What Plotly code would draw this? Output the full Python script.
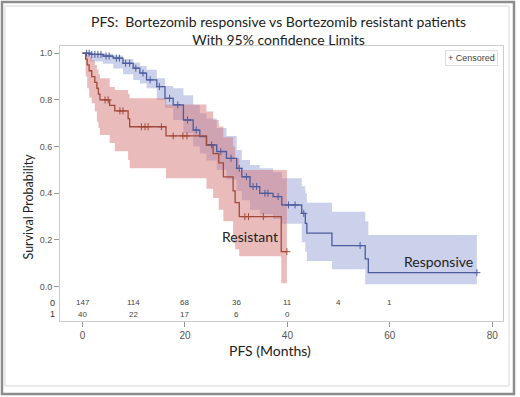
import numpy as np
import plotly.graph_objects as go

# ---------------- data ----------------
# Responsive (group 0)
resp_t = [0, 1.5, 4.0, 6.0, 7.9, 9.9, 11.2, 12.5, 14.5, 16.1, 17.7, 19.7, 21.6, 22.9, 24.2, 26.2, 28.1,
          30.1, 31.1, 32.7, 34.6, 37.2, 38.9, 42.8, 43.5, 43.8, 48.7, 55.2, 55.8, 77.0]
resp_s = [1.0, 0.995, 0.988, 0.979, 0.957, 0.936, 0.915, 0.886, 0.857, 0.807, 0.779, 0.714, 0.671, 0.643,
          0.607, 0.579, 0.55, 0.507, 0.471, 0.429, 0.40, 0.386, 0.35, 0.314, 0.271, 0.229, 0.176, 0.119,
          0.06, 0.06]
resp_lo = [1.0, 0.965, 0.955, 0.935, 0.91, 0.885, 0.87, 0.85, 0.80, 0.765, 0.714, 0.657, 0.60, 0.57, 0.54,
           0.50, 0.46, 0.41, 0.37, 0.33, 0.31, 0.29, 0.27, 0.19, 0.15, 0.11, 0.075, 0.01, 0.01, 0.01]
resp_hi = [1.0, 1.0, 0.998, 0.99, 0.975, 0.96, 0.945, 0.929, 0.893, 0.86, 0.85, 0.82, 0.779, 0.743, 0.72,
           0.68, 0.645, 0.586, 0.543, 0.521, 0.507, 0.49, 0.464, 0.43, 0.40, 0.36, 0.321, 0.28, 0.221, 0.221]
resp_cens = [0.8, 1.3, 1.8, 2.4, 3.0, 3.6, 4.6, 5.2, 6.6, 7.2, 8.4, 9.2, 10.4, 11.8, 13.2, 15.0, 17.0,
             18.6, 20.5, 22.2, 25.2, 27.0, 29.0, 30.6, 32.0, 33.3, 34.0, 35.6, 36.2, 38.2, 40.2, 41.5,
             43.2, 54.2, 77.0]

# Resistant (group 1)
res_t = [0, 0.6, 0.9, 1.3, 1.8, 2.4, 2.8, 3.1, 3.4, 5.3, 6.3, 8.9, 9.2, 16.3, 24.2, 25.5, 26.6, 27.5,
         29.4, 29.8, 30.6, 38.8, 39.9]
res_s = [1.0, 0.975, 0.95, 0.925, 0.90, 0.875, 0.85, 0.825, 0.80, 0.777, 0.753, 0.72, 0.685, 0.646,
         0.607, 0.57, 0.53, 0.47, 0.41, 0.36, 0.30, 0.15, 0.15]
res_lo = [1.0, 0.90, 0.85, 0.81, 0.786, 0.75, 0.707, 0.68, 0.65, 0.615, 0.58, 0.543, 0.507, 0.465,
          0.42, 0.38, 0.33, 0.28, 0.186, 0.16, 0.13, 0.015, 0.015]
res_hi = [1.0, 1.0, 0.995, 0.985, 0.97, 0.95, 0.93, 0.91, 0.893, 0.855, 0.843, 0.825, 0.807, 0.78,
          0.75, 0.714, 0.686, 0.64, 0.60, 0.55, 0.50, 0.50, 0.50]
res_cens = [4.4, 5.0, 7.3, 7.9, 11.5, 12.2, 12.8, 15.4, 17.7, 19.6, 20.4, 31.7, 32.4, 35.3, 39.9]

# At-risk table
risk_times = [0, 10, 20, 30, 40, 50, 60]
risk_resp = [147, 114, 68, 36, 11, 4, 1]
risk_res = [40, 22, 17, 6, 0]

x_ticks = [0, 20, 40, 60, 80]
y_ticks = [0.0, 0.2, 0.4, 0.6, 0.8, 1.0]
y_tick_labels = ["0.0", "0.2", "0.4", "0.6", "0.8", "1.0"]

# ---------------- styling ----------------
W, H = 520, 397
ML, MR, MT, MB = 60, 17, 46, 76
PW, PH = W - ML - MR, H - MT - MB

def px_x(p):
    return (p - ML) / PW

def px_y(p):
    return 1 - (p - MT) / PH

BLUE_LINE = "#4c5c9e"
BLUE_FILL = "rgba(140,152,210,0.45)"
RED_LINE = "#a24a3a"
RED_FILL = "rgba(212,112,112,0.48)"
FONT = "Lato, 'Open Sans', sans-serif"
TFONT = "'Liberation Sans', Arial, sans-serif"


def step_at(ts, ss, c):
    i = np.searchsorted(np.array(ts), c, side="right") - 1
    return ss[max(i, 0)]


fig = go.Figure()

# CI bands
for t, lo, hi, col in [(resp_t, resp_lo, resp_hi, BLUE_FILL), (res_t, res_lo, res_hi, RED_FILL)]:
    fig.add_trace(go.Scatter(x=t, y=hi, mode="lines", line=dict(width=0, shape="hv"),
                             showlegend=False, hoverinfo="skip"))
    fig.add_trace(go.Scatter(x=t, y=lo, mode="lines", line=dict(width=0, shape="hv"),
                             fill="tonexty", fillcolor=col, showlegend=False, hoverinfo="skip"))

# Survival curves
for t, s, col in [(resp_t, resp_s, BLUE_LINE), (res_t, res_s, RED_LINE)]:
    fig.add_trace(go.Scatter(x=t, y=s, mode="lines", line=dict(width=1.3, shape="hv", color=col),
                             showlegend=False, hoverinfo="skip"))

# Censor marks
for t, s, cens, col in [(resp_t, resp_s, resp_cens, BLUE_LINE), (res_t, res_s, res_cens, RED_LINE)]:
    fig.add_trace(go.Scatter(x=cens, y=[step_at(t, s, c) for c in cens], mode="markers",
                             marker=dict(symbol="cross-thin", size=5, line=dict(width=1, color=col)),
                             showlegend=False, hoverinfo="skip"))

annotations = []
# at-risk numbers
for tt, n in zip(risk_times, risk_resp):
    annotations.append(dict(x=tt, y=-0.0686, xref="x", yref="y", text=str(n), showarrow=False,
                            font=dict(size=8, color="#444", family=TFONT)))
for tt, n in zip(risk_times, risk_res):
    annotations.append(dict(x=tt, y=-0.118, xref="x", yref="y", text=str(n), showarrow=False,
                            font=dict(size=8, color="#444", family=TFONT)))
for lab, yy in [("0", -0.0686), ("1", -0.118)]:
    annotations.append(dict(x=px_x(57), y=yy, xref="paper", yref="y", text=lab, showarrow=False,
                            xanchor="right", font=dict(size=9, color="#333", family=TFONT)))

# group labels
annotations.append(dict(x=32.7, y=0.217, xref="x", yref="y", text="Resistant", showarrow=False,
                        font=dict(size=14, color="#222", family=FONT)))
annotations.append(dict(x=69.6, y=0.11, xref="x", yref="y", text="Responsive", showarrow=False,
                        font=dict(size=14, color="#222", family=FONT)))

# title
annotations.append(dict(x=px_x(278), y=px_y(30), xref="paper", yref="paper", yanchor="middle",
                        text="PFS:&nbsp; Bortezomib responsive vs Bortezomib resistant patients<br>With 95% confidence Limits",
                        showarrow=False, font=dict(size=14, color="#222", family=FONT), align="center"))
# axis titles
annotations.append(dict(x=px_x(270), y=px_y(350), xref="paper", yref="paper", yanchor="middle",
                        text="PFS (Months)",
                        showarrow=False, font=dict(size=14, color="#222", family=FONT)))
annotations.append(dict(x=px_x(18), y=px_y(207), xref="paper", yref="paper", text="Survival Probability",
                        showarrow=False, textangle=-90, font=dict(size=12.5, color="#222", family=FONT)))
# legend
annotations.append(dict(x=px_x(498), y=px_y(50), xref="paper", yref="paper", text="+ Censored",
                        showarrow=False, xanchor="right", yanchor="top", bordercolor="#dddddd",
                        borderwidth=1, borderpad=2, bgcolor="white",
                        font=dict(size=9, color="#444", family=TFONT)))

shapes = [
    dict(type="rect", xref="paper", yref="paper", x0=px_x(2), x1=px_x(514), y0=px_y(394), y1=px_y(2),
         line=dict(color="#8c8c8c", width=2.5), layer="below"),
    dict(type="rect", xref="paper", yref="paper", x0=px_x(5), x1=px_x(509), y0=px_y(386), y1=px_y(6),
         line=dict(color="#d6d6d6", width=1), layer="below"),
]

fig.update_layout(
    width=W, height=H, margin=dict(l=ML, r=MR, t=MT, b=MB),
    paper_bgcolor="white", plot_bgcolor="white",
    annotations=annotations, shapes=shapes, showlegend=False,
    xaxis=dict(range=[-4.4, 82.1], tickvals=x_ticks, ticks="outside", ticklen=5, tickcolor="#999",
               showline=True, linecolor="#cccccc", mirror=True, showgrid=False, zeroline=False,
               tickfont=dict(size=10, color="#555", family=TFONT)),
    yaxis=dict(range=[-0.147, 1.031], tickvals=y_ticks, ticktext=y_tick_labels, ticks="outside",
               ticklen=5, tickcolor="#999", showline=True, linecolor="#cccccc", mirror=True,
               showgrid=False, zeroline=False, tickfont=dict(size=9, color="#555", family=TFONT)),
)

fig.write_html("out.html", config={"displayModeBar": False},
               post_script="document.body.style.margin='0';document.body.style.overflow='hidden';")
